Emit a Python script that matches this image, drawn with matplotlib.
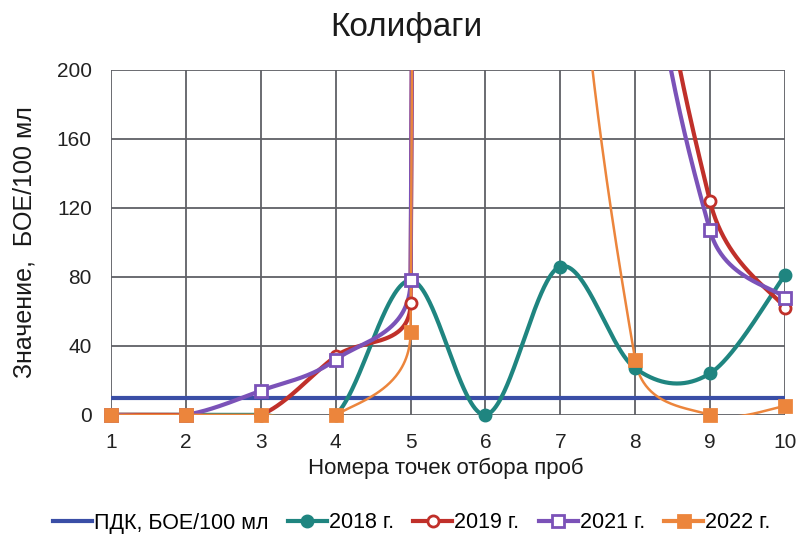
import numpy as np
import matplotlib as mpl
import matplotlib.pyplot as plt
from matplotlib.lines import Line2D

mpl.use('Agg')
plt.rcParams['font.family'] = ['Liberation Sans', 'DejaVu Sans']

# данные (значения выше 200 уходят за пределы оси, как на исходном графике)
points = [1, 2, 3, 4, 5, 6, 7, 8, 9, 10]
pdk = [10, 10, 10, 10, 10, 10, 10, 10, 10, 10]
y2018 = [0, 0, 0, 0, 78, 0, 86, 27, 24, 81]
y2019 = [0, 0, 0, 34, 65, 15000, 2000, 420, 124, 62]
y2021 = [0, 0, 14, 32, 78, 15000, 2000, 380, 107, 68]
y2022 = [0, 0, 0, 0, 48, 15000, 520, 32, 0, 5]

series_names = ['ПДК, БОЕ/100 мл', '2018 г.', '2019 г.', '2021 г.', '2022 г.']
y_ticks = [0, 40, 80, 120, 160, 200]

# масштаб "пиксель на единицу" для сглаживания как в Excel
SX, SY = 75.0, 1.725


def smooth(xs, ys, n=80):
    # кривые Безье, плечо = 1/6 хорды соседей, но не больше половины сегмента
    p = np.column_stack([np.asarray(xs, float) * SX, np.asarray(ys, float) * SY])
    out = []
    for i in range(len(p) - 1):
        p0 = p[i - 1] if i > 0 else p[i]
        p1, p2 = p[i], p[i + 1]
        p3 = p[i + 2] if i + 2 < len(p) else p[i + 1]
        half = np.linalg.norm(p2 - p1) / 2
        a1 = (p2 - p0) / 6
        a2 = (p3 - p1) / 6
        if np.linalg.norm(a1) > half:
            a1 = a1 / np.linalg.norm(a1) * half
        if np.linalg.norm(a2) > half:
            a2 = a2 / np.linalg.norm(a2) * half
        c1, c2 = p1 + a1, p2 - a2
        t = np.linspace(0, 1, n)[:, None]
        seg = (1 - t) ** 3 * p1 + 3 * (1 - t) ** 2 * t * c1 + 3 * (1 - t) * t ** 2 * c2 + t ** 3 * p2
        out.append(seg if i == 0 else seg[1:])
    c = np.vstack(out)
    return c[:, 0] / SX, c[:, 1] / SY


fig = plt.figure(figsize=(8, 5.38), dpi=100)
ax = fig.add_axes([0.139, 0.229, 0.842, 0.641])

styles = [
    dict(color='#3a4ea6', lw=3.0, marker=None),
    dict(color='#1f8580', lw=3.0, marker='o', mfc='#1f8580', ms=8),
    dict(color='#c0302a', lw=3.0, marker='o', mfc='white', ms=8),
    dict(color='#7b52b8', lw=3.0, marker='s', mfc='white', ms=8),
    dict(color='#ec853c', lw=1.8, marker='s', mfc='#ec853c', ms=8),
]
data = [pdk, y2018, y2019, y2021, y2022]

handles = []
for vals, st, name in zip(data, styles, series_names):
    sx_, sy_ = smooth(points, vals)
    ax.plot(sx_, sy_, color=st['color'], lw=st['lw'], solid_capstyle='butt', zorder=3)
    if st['marker']:
        vis = [(x, v) for x, v in zip(points, vals) if 0 <= v <= 200]
        ax.plot([v[0] for v in vis], [v[1] for v in vis], ls='none', marker=st['marker'],
                ms=st['ms'], mfc=st['mfc'], mec=st['color'], mew=2, clip_on=False, zorder=4)
    handles.append(Line2D([], [], color=st['color'], lw=3.0,
                          marker=st['marker'], ms=st.get('ms', 0), mfc=st.get('mfc'),
                          mec=st['color'], mew=2, label=name))

ax.set_xlim(1, 10)
ax.set_ylim(0, 200)
ax.set_xticks(points)
ax.set_yticks(y_ticks)
ax.grid(True, color='#5f6066', lw=1.3)
for s in ax.spines.values():
    s.set_visible(False)
ax.tick_params(length=0, labelsize=15, colors='#222222')
ax.tick_params(axis='y', pad=14)
ax.tick_params(axis='x', pad=13)
ax.set_axisbelow(True)

fig.text(406 / 800, 1 - 28 / 538, 'Колифаги', fontsize=24, color='#1a1a1a',
         ha='center', va='center')
ax.set_xlabel('Номера точек отбора проб', fontsize=16, color='#1a1a1a', va='center')
ax.xaxis.set_label_coords(0.497, -0.154)
ax.set_ylabel('Значение,  БОЕ/100 мл', fontsize=18, color='#1a1a1a', va='center')
ax.yaxis.set_label_coords(-0.128, 0.5)

fig.legend(handles=handles, loc='center', bbox_to_anchor=(0.515, 1 - 523 / 538), ncol=5,
           frameon=False, fontsize=15.5, handlelength=1.8, handletextpad=0.1,
           columnspacing=0.9, borderaxespad=0)

fig.savefig('out.png', dpi=100)
